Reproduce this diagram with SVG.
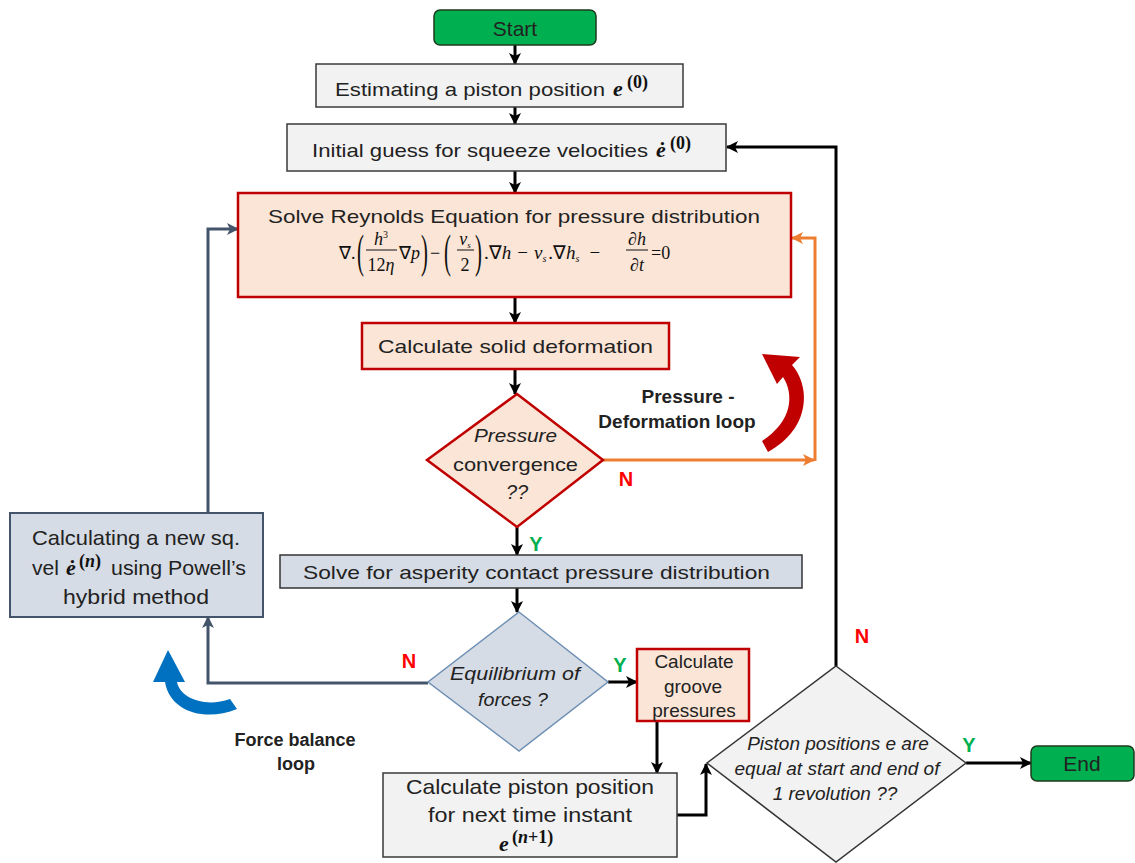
<svg xmlns="http://www.w3.org/2000/svg" width="1135" height="863" viewBox="0 0 1135 863" font-size="19">
<defs>
<style>
.t{font-family:"Liberation Sans",Arial,sans-serif;fill:#222}
.i{font-style:italic}
.b{font-weight:bold}
.m{font-family:"Liberation Serif","Times New Roman",serif;fill:#111}
.eq{font-family:"Liberation Serif","Times New Roman",serif;font-style:italic;font-size:18px;fill:#111}
.en{font-family:"Liberation Serif","Times New Roman",serif;font-size:18px;fill:#111}
.par{font-family:"Liberation Serif","Times New Roman",serif;font-size:46px;fill:#111}
.gray{fill:#f2f2f2;stroke:#3a3a3a;stroke-width:1.5}
.red{fill:#fbe5d6;stroke:#c00000;stroke-width:2.5}
.blue{fill:#d6dce5;stroke:#333;stroke-width:1.5}
.green{fill:#00b050;stroke:#1e3a1e;stroke-width:1.5}
.k{fill:none;stroke:#000;stroke-width:3}
.o{fill:none;stroke:#ed7d31;stroke-width:3}
.s{fill:none;stroke:#44546a;stroke-width:3}
.N{font-family:"Liberation Sans",Arial,sans-serif;font-weight:bold;font-size:20px;fill:#ff0000}
.Y{font-family:"Liberation Sans",Arial,sans-serif;font-weight:bold;font-size:20px;fill:#00b050}
</style>
<marker id="ak" markerUnits="userSpaceOnUse" markerWidth="12" markerHeight="12" refX="11" refY="6" orient="auto"><path d="M0,0 L12,6 L0,12 L3,6 z" fill="#000"/></marker>
<marker id="ao" markerUnits="userSpaceOnUse" markerWidth="12" markerHeight="12" refX="11" refY="6" orient="auto"><path d="M0,0 L12,6 L0,12 L3,6 z" fill="#ed7d31"/></marker>
<marker id="as" markerUnits="userSpaceOnUse" markerWidth="12" markerHeight="12" refX="11" refY="6" orient="auto"><path d="M0,0 L12,6 L0,12 L3,6 z" fill="#44546a"/></marker>
</defs>
<rect width="1135" height="863" fill="#fff"/>

<g id="connectors">
<path class="k" d="M515,45 V64" marker-end="url(#ak)"/>
<path class="k" d="M515,107 V124" marker-end="url(#ak)"/>
<path class="k" d="M515,171 V193" marker-end="url(#ak)"/>
<path class="k" d="M515,297 V323" marker-end="url(#ak)"/>
<path class="k" d="M515,369 V394" marker-end="url(#ak)"/>
<path class="k" d="M517,527 V555" marker-end="url(#ak)"/>
<path class="k" d="M517,588 V612" marker-end="url(#ak)"/>
<path class="k" d="M608,682 H637" marker-end="url(#ak)"/>
<path class="k" d="M657,721 V773" marker-end="url(#ak)"/>
<path class="k" d="M677,815 H706 V764" marker-end="url(#ak)"/>
<path class="k" d="M836,666 V147 H727" marker-end="url(#ak)"/>
<path class="k" d="M966,763 H1031" marker-end="url(#ak)"/>
<path class="o" d="M603,460 H814" marker-end="url(#ao)"/>
<path class="o" d="M815,461 V238 H792" marker-end="url(#ao)"/>
<path class="s" d="M428,683 H208 V617" marker-end="url(#as)"/>
<path class="s" d="M208,513 V229 H238" marker-end="url(#as)"/>
</g>

<g id="start">
<rect class="green" x="434" y="10" width="162" height="35" rx="6"/>
<text class="t" x="515" y="36" text-anchor="middle" font-size="21">Start</text>
</g>

<g id="estimate">
<rect class="gray" x="316" y="64" width="367" height="43"/>
<text class="t" x="335" y="96" textLength="270" lengthAdjust="spacingAndGlyphs">Estimating a piston position</text>
<text class="m" x="613" y="96" font-size="22" font-weight="bold" font-style="italic">e</text>
<text class="m" x="627" y="88" font-size="18" font-weight="bold">(0)</text>
</g>

<g id="initial">
<rect class="gray" x="287" y="124" width="439" height="47"/>
<text class="t" x="312" y="157" textLength="336" lengthAdjust="spacingAndGlyphs">Initial guess for squeeze velocities</text>
<text class="m" x="656" y="157" font-size="22" font-weight="bold" font-style="italic">ė</text>
<text class="m" x="670" y="149" font-size="18" font-weight="bold">(0)</text>
</g>

<g id="reynolds">
<rect class="red" x="238" y="193" width="553" height="104"/>
<text class="t" x="268" y="223" textLength="492" lengthAdjust="spacingAndGlyphs">Solve Reynolds Equation for pressure distribution</text>
<text class="en" x="339" y="259">∇.</text>
<text class="par" x="357" y="267" transform="translate(357 0) scale(0.45 1) translate(-357 0)">(</text>
<text class="eq" x="381" y="245" text-anchor="middle">h<tspan font-style="normal" font-size="10" dy="-7">3</tspan></text>
<line x1="366" y1="250" x2="397" y2="250" stroke="#111" stroke-width="1"/>
<text class="eq" x="381" y="271" text-anchor="middle"><tspan font-style="normal">12</tspan>η</text>
<text class="eq" x="399" y="259"><tspan font-style="normal">∇</tspan>p</text>
<text class="par" x="421" y="267" transform="translate(421 0) scale(0.45 1) translate(-421 0)">)</text>
<text class="en" x="430" y="259">−</text>
<text class="par" x="444" y="267" transform="translate(444 0) scale(0.45 1) translate(-444 0)">(</text>
<text class="eq" x="465" y="245" text-anchor="middle">v<tspan font-size="9" dy="3">s</tspan></text>
<line x1="457" y1="250" x2="474" y2="250" stroke="#111" stroke-width="1"/>
<text class="en" x="465" y="271" text-anchor="middle">2</text>
<text class="par" x="475" y="267" transform="translate(475 0) scale(0.45 1) translate(-475 0)">)</text>
<text class="eq" x="484" y="259" style="font-size:19px"><tspan font-style="normal">.∇</tspan>h<tspan font-style="normal" dx="6">−</tspan><tspan dx="6">v</tspan><tspan font-size="10" dy="3">s</tspan><tspan dy="-3" dx="2" font-style="normal">.∇</tspan>h<tspan font-size="10" dy="3">s</tspan><tspan dy="-3" dx="10" font-style="normal">−</tspan></text>
<text class="eq" x="637" y="245" text-anchor="middle">∂h</text>
<line x1="626" y1="250" x2="648" y2="250" stroke="#111" stroke-width="1"/>
<text class="eq" x="637" y="271" text-anchor="middle">∂t</text>
<text class="en" x="651" y="259">=0</text>
</g>

<g id="deformation">
<rect class="red" x="362" y="323" width="307" height="46"/>
<text class="t" x="378" y="353" textLength="275" lengthAdjust="spacingAndGlyphs">Calculate solid deformation</text>
</g>

<g id="pconv">
<polygon class="red" stroke-width="2" points="517,394 603,460 517,527 427,460"/>
<text class="t i" x="474" y="442" textLength="83" lengthAdjust="spacingAndGlyphs">Pressure</text>
<text class="t" x="453" y="471" textLength="125" lengthAdjust="spacingAndGlyphs">convergence</text>
<text class="t i" x="517" y="499" text-anchor="middle" font-size="20">??</text>
</g>

<g id="pdloop">
<path d="M762,354 L800,357 L792,365 C810,385 812,428 768,452 L762,441 C793,421 794,394 783,377 L777,384 Z" fill="#c00000"/>
<text class="t b" x="688" y="403" text-anchor="middle">Pressure -</text>
<text class="t b" x="677" y="428" text-anchor="middle">Deformation loop</text>
</g>

<g id="asperity">
<rect class="blue" x="280" y="555" width="522" height="33"/>
<text class="t" x="303" y="579" textLength="467" lengthAdjust="spacingAndGlyphs">Solve for asperity contact pressure distribution</text>
</g>

<g id="equilibrium">
<polygon fill="#d6dce5" stroke="#6d8fb3" stroke-width="1.5" points="519,612 608,682 519,751 428,682"/>
<text class="t i" x="450" y="680" textLength="130" lengthAdjust="spacingAndGlyphs">Equilibrium of</text>
<text class="t i" x="478" y="706" textLength="70" lengthAdjust="spacingAndGlyphs">forces ?</text>
</g>

<g id="groove">
<rect class="red" x="637" y="649" width="112" height="72"/>
<text class="t" x="694" y="668" text-anchor="middle">Calculate</text>
<text class="t" x="693" y="693" text-anchor="middle">groove</text>
<text class="t" x="694" y="717" text-anchor="middle">pressures</text>
</g>

<g id="nextpos">
<rect class="gray" x="383" y="773" width="294" height="84"/>
<text class="t" x="406" y="794" textLength="248" lengthAdjust="spacingAndGlyphs" font-size="21">Calculate piston position</text>
<text class="t" x="428" y="822" textLength="204" lengthAdjust="spacingAndGlyphs" font-size="21">for next time instant</text>
<text class="m" x="499" y="851" font-size="22" font-weight="bold" font-style="italic">e</text>
<text class="m" x="512" y="843" font-size="18" font-weight="bold">(<tspan font-style="italic">n</tspan>+1)</text>
</g>

<g id="newvel">
<rect fill="#d6dce5" stroke="#44546a" stroke-width="2" x="10" y="513" width="253" height="104"/>
<text class="t" x="32" y="545" textLength="208" lengthAdjust="spacingAndGlyphs" font-size="21">Calculating a new sq.</text>
<text class="t" x="32" y="575" font-size="21">vel</text>
<text class="m" x="66" y="575" font-size="22" font-weight="bold" font-style="italic">ė</text>
<text class="m" x="79" y="567" font-size="18" font-weight="bold">(<tspan font-style="italic">n</tspan>)</text>
<text class="t" x="111" y="575" textLength="135" lengthAdjust="spacingAndGlyphs" font-size="21">using Powell’s</text>
<text class="t" x="63" y="604" textLength="146" lengthAdjust="spacingAndGlyphs" font-size="21">hybrid method</text>
</g>

<g id="fbloop">
<path d="M168,650 L185,682 L177,682 C180,698 205,708 230,699 L237,709 C205,722 170,712 165,682 L153,682 Z" fill="#0070c0"/>
<text class="t b" x="295" y="746" text-anchor="middle" font-size="18">Force balance</text>
<text class="t b" x="296" y="770" text-anchor="middle" font-size="18">loop</text>
</g>

<g id="revolution">
<polygon fill="#f2f2f2" stroke="#333" stroke-width="1.5" points="836,666 966,763 836,862 707,763"/>
<text class="t i" x="838" y="750" text-anchor="middle">Piston positions e are</text>
<text class="t i" x="837" y="775" text-anchor="middle">equal at start and end of</text>
<text class="t i" x="835" y="800" text-anchor="middle">1 revolution ??</text>
</g>

<g id="end">
<rect class="green" x="1031" y="746" width="103" height="35" rx="6"/>
<text class="t" x="1082" y="771" text-anchor="middle" font-size="21">End</text>
</g>

<g id="labels">
<text class="N" x="626" y="486" text-anchor="middle">N</text>
<text class="N" x="409" y="668" text-anchor="middle">N</text>
<text class="N" x="862" y="643" text-anchor="middle">N</text>
<text class="Y" x="536" y="551" text-anchor="middle">Y</text>
<text class="Y" x="620" y="672" text-anchor="middle">Y</text>
<text class="Y" x="969" y="752" text-anchor="middle">Y</text>
</g>
</svg>
